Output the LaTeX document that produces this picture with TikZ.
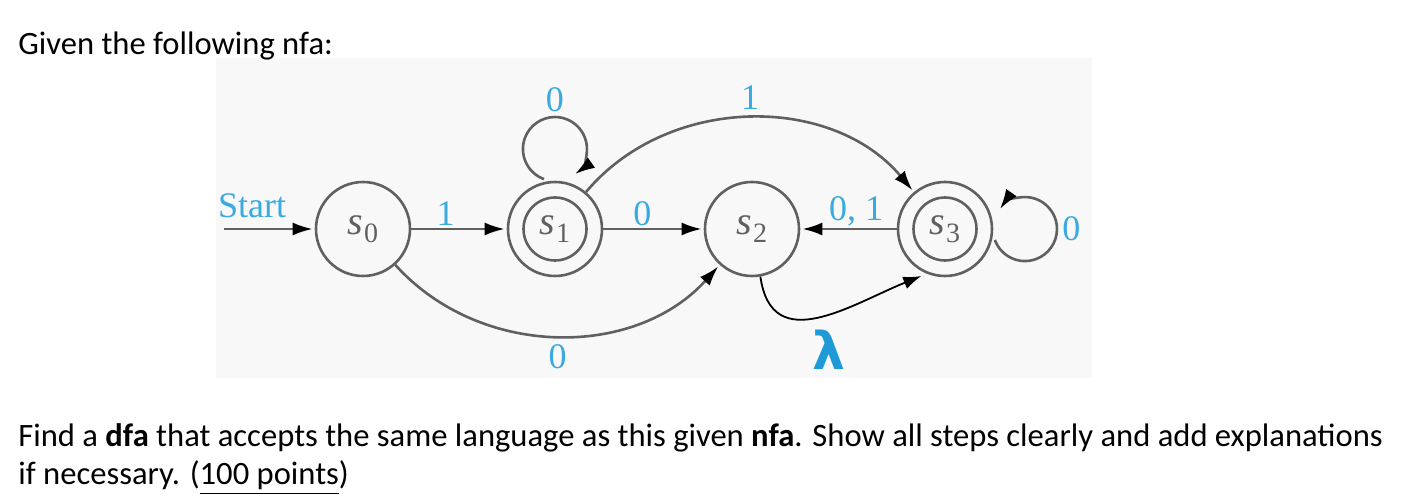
\documentclass[tikz,border=0pt]{standalone}
\usepackage{fontspec}
\setmainfont{Carlito}
\newfontfamily\figfont{Liberation Serif}
\newfontfamily\lamfont{DejaVu Sans}
\usetikzlibrary{arrows.meta, positioning}
\definecolor{bggray}{HTML}{F8F8F8}
\definecolor{lblblue}{HTML}{3AAAE0}
\definecolor{lamblue}{HTML}{1E9AD6}
\definecolor{linegray}{HTML}{606060}
\newcommand{\stlabel}[1]{{\itshape s}\kern0.3pt\raisebox{-0.45ex}{\fontsize{14}{15}\selectfont #1}}
\tikzstyle{state}    = [draw=linegray, line width=1.3pt, circle, minimum size=47pt, inner sep=0pt, text=linegray, font=\figfont\fontsize{20}{22}\selectfont]
\tikzstyle{accept}   = [state, path picture={\draw[linegray, line width=1.3pt] (path picture bounding box.center) circle[radius=15.75pt];}]
\tikzstyle{diredge}  = [draw=linegray, line width=1.3pt, shorten >=1pt, -{Latex[color=black, length=10pt, width=6.5pt]}]
\tikzstyle{lamedge}  = [draw=black, line width=0.9pt, -{Latex[color=black, length=9pt, width=6.5pt]}]
\tikzstyle{lbl}      = [text=lblblue, font=\figfont\fontsize{18}{20}\selectfont, inner sep=1pt]
\tikzstyle{bodytext} = [anchor=base west, inner sep=0pt, font=\fontsize{16.3}{18}\selectfont]

\begin{document}
\begin{tikzpicture}[x=0.5pt, y=0.5pt]

        \useasboundingbox (0,0) rectangle (1420,-496);

        % Hintergrund der Skizze
        \fill[bggray] (216,-58) rectangle (1092,-378);

        % Aufgabe
        \node[bodytext] (given) at (18,-55) {Given the following nfa:};

        % Zustaende
        \node[state]  (s0) at (363,-229) {\stlabel{0}};
        \node[accept] (s1) at (555,-229) {\stlabel{1}};
        \node[state]  (s2) at (752,-229) {\stlabel{2}};
        \node[accept] (s3) at (945,-229) {\stlabel{3}};

        % Start
        \coordinate (start) at (224,-229);
        \node[lbl, anchor=base] (startlbl) at (252,-218) {Start};
        \draw[diredge] (start) -- (s0);

        % Uebergaenge
        \draw[diredge]
            (s0) --
            node[lbl, above, pos=0.36] {1}
            (s1);

        \draw[diredge]
            (s1) --
            node[lbl, above, pos=0.39] {0}
            (s2);

        \draw[diredge]
            (s3) --
            node[lbl, above, pos=0.42] {0, 1}
            (s2);

        \draw[diredge]
            (s1) to[bend left=50]
            node[lbl, above=3pt] {1}
            (s3);

        \draw[diredge]
            (s0) to[bend right=48]
            node[lbl, below=3pt] {0}
            (s2);

        % Schleifen
        \draw[diredge]
            ([xshift=-5.5pt, yshift=0.8pt]s1.north)
            arc[start angle=250, end angle=90, radius=16pt]
            node[lbl, above=1pt] {0}
            arc[start angle=90, end angle=-55, radius=16pt];

        \draw[diredge]
            ([xshift=0.8pt, yshift=-5.5pt]s3.east)
            arc[start angle=-160, end angle=0, radius=16pt]
            node[lbl, right=1pt] {0}
            arc[start angle=0, end angle=145, radius=16pt];

        % Lambda
        \draw[lamedge, shorten >=3pt]
            (s2.-80) to[out=-82, in=202, looseness=1.25]
            node[below=4pt, pos=0.55, text=lamblue, font=\lamfont\bfseries\fontsize{26}{28}\selectfont] {λ}
            (s3.-112);

        % Aufgabenstellung
        \node[bodytext] (task1) at (18,-447)
            {Find a \textbf{dfa} that accepts the same language as this given \textbf{nfa}. Show all steps clearly and add explanations};
        \node[bodytext] (task2) at (18,-485)
            {if necessary. (\underline{100 points})};

    \end{tikzpicture}
\end{document}
